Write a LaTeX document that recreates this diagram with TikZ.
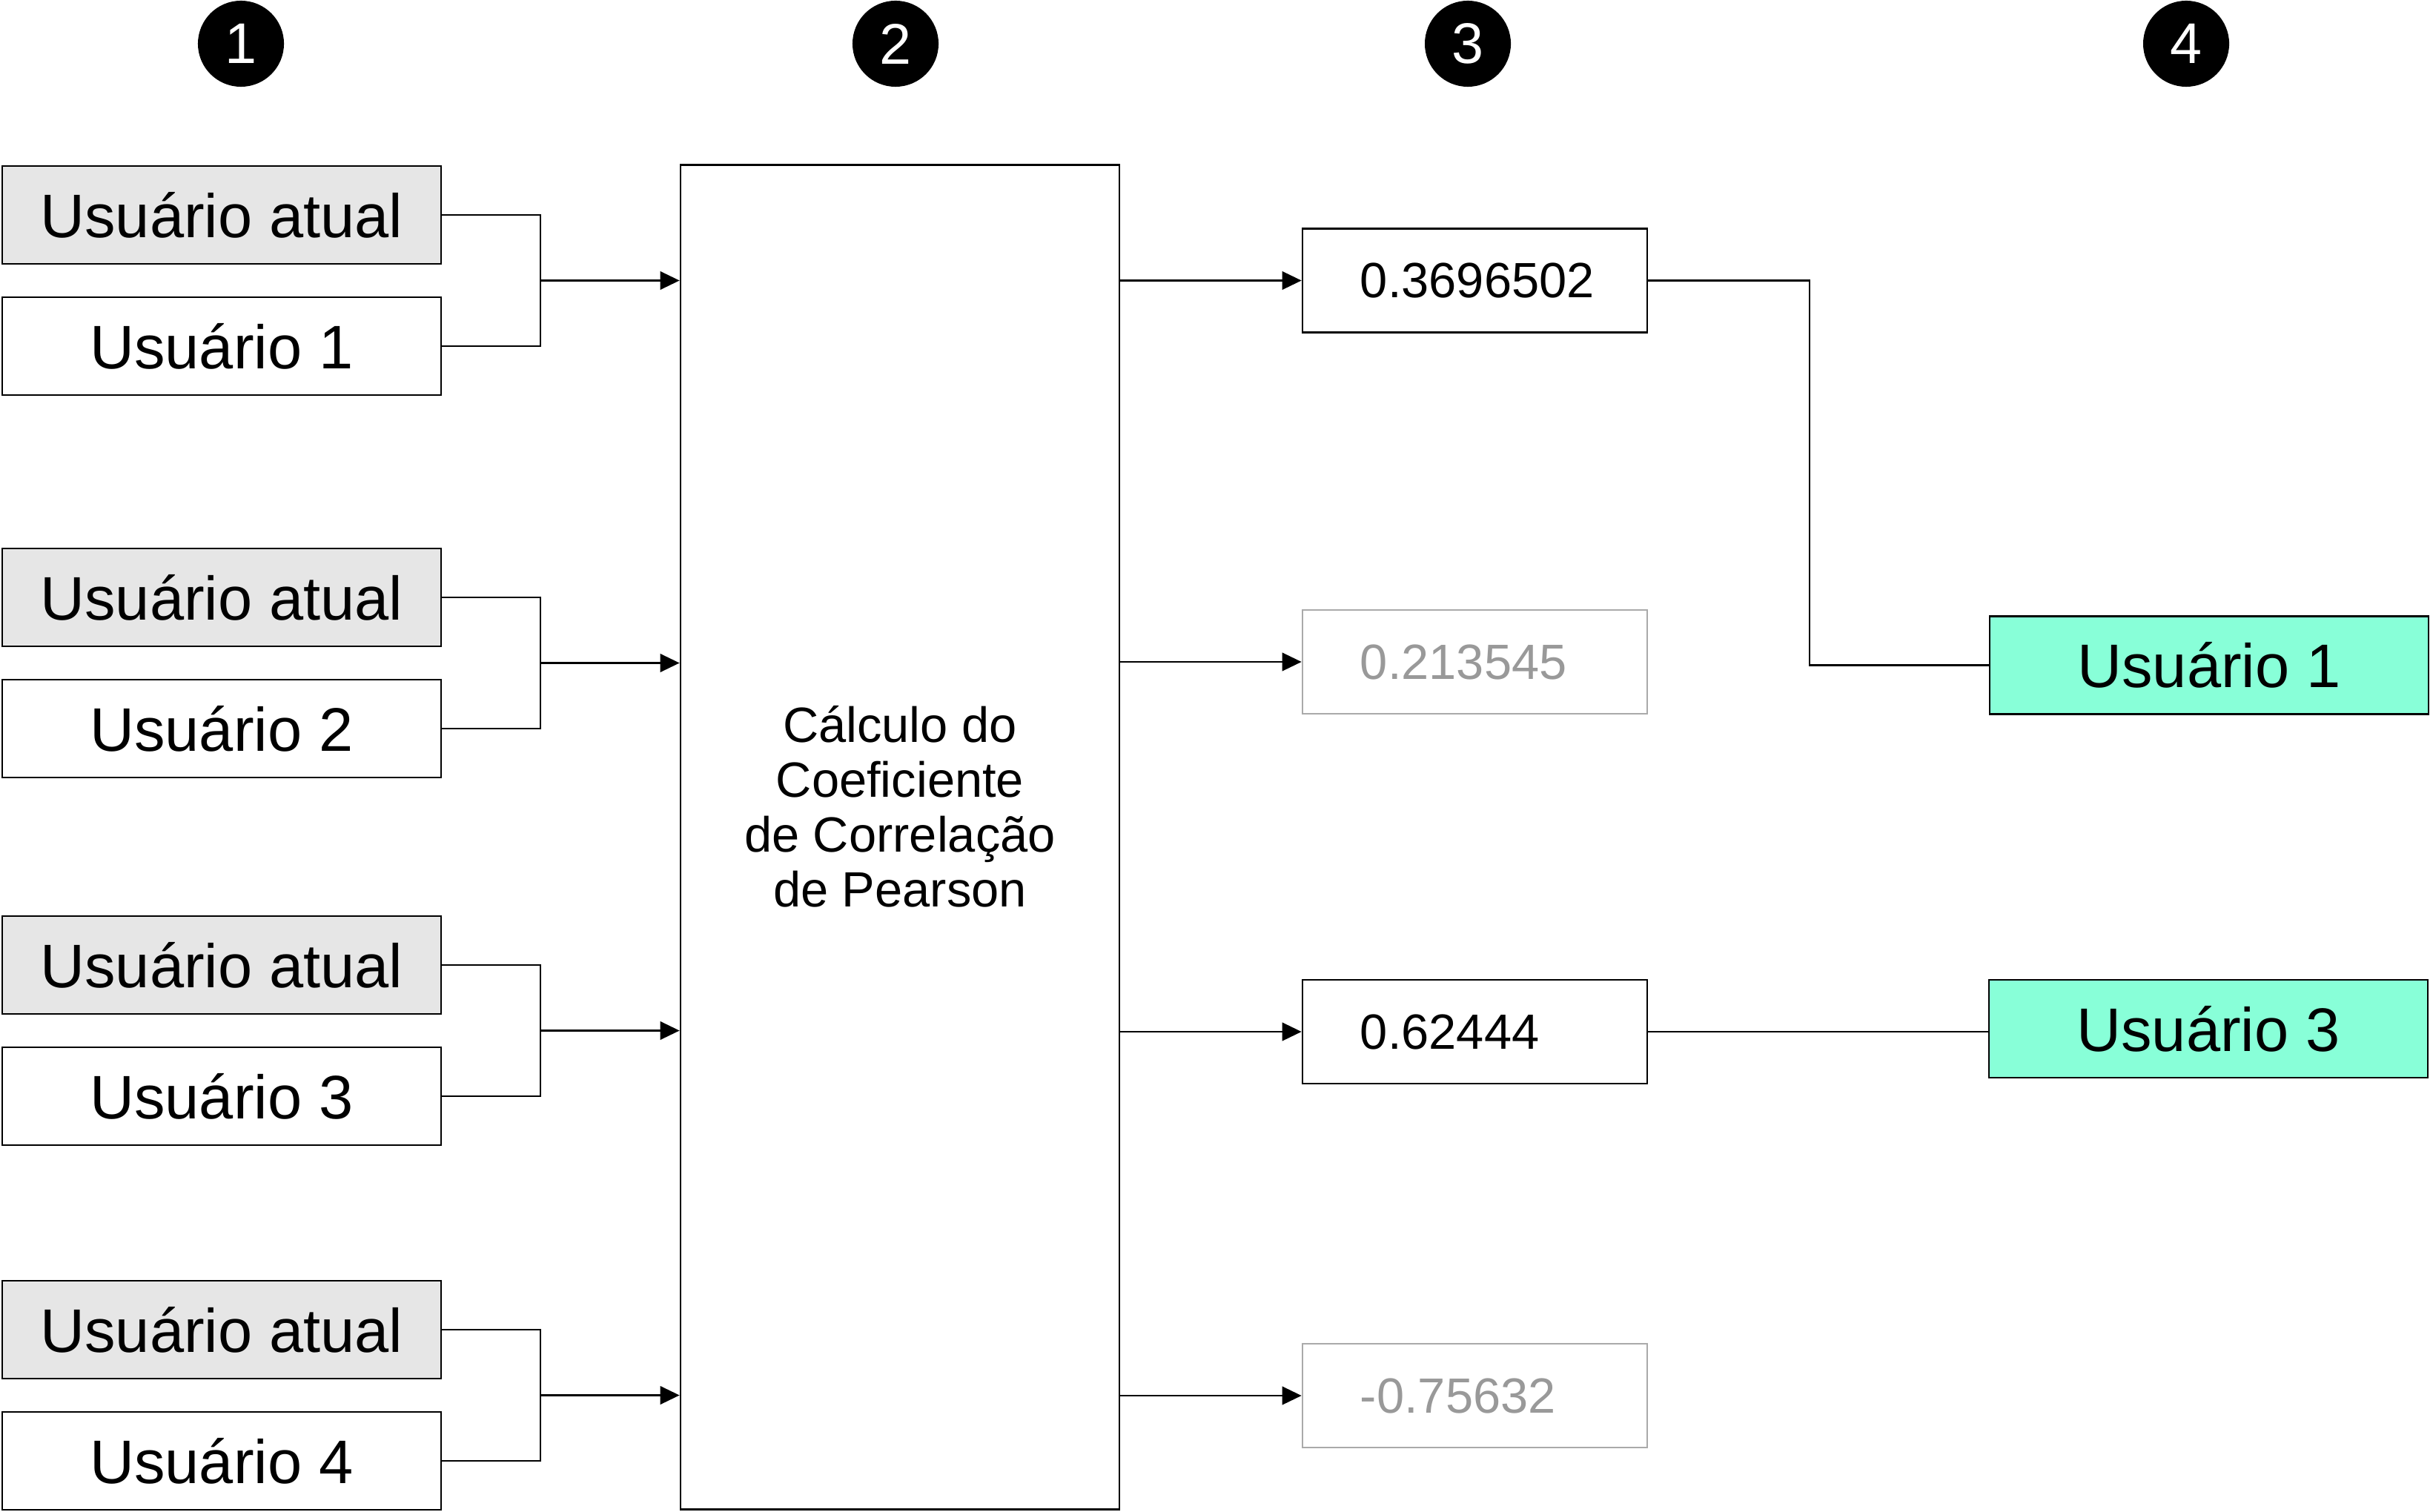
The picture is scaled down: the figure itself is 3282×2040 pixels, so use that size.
\documentclass[tikz,border=0pt]{standalone}
\usepackage{fontspec}
\setmainfont{Liberation Sans}
\usepackage{tikz}
\usetikzlibrary{arrows.meta}
\definecolor{cinzaclaro}{HTML}{E6E6E6}
\definecolor{verdeagua}{HTML}{88FFD8}
\definecolor{cinzafraco}{HTML}{999999}
\definecolor{bordafraca}{HTML}{AAAAAA}
\tikzset{
	usernode/.style={rectangle, draw=black, line width=0.7pt, minimum width=5.92cm, minimum height=1.32cm, inner sep=0pt, font=\fontsize{23.6}{28}\selectfont},
	atualnode/.style={usernode, fill=cinzaclaro},
	escolhidonode/.style={usernode, fill=verdeagua},
	valnode/.style={rectangle, draw=black, line width=0.7pt, minimum height=1.40cm, inner xsep=0.78cm, inner ysep=0pt, text width=3.09cm, align=left, font=\fontsize{19}{22}\selectfont},
	fracanode/.style={valnode, draw=bordafraca, text=cinzafraco},
	calcnode/.style={rectangle, draw=black, line width=0.7pt, minimum width=5.92cm, minimum height=18.13cm},
	passonode/.style={circle, fill=black, text=white, minimum size=1.16cm, inner sep=0pt, font=\fontsize{22}{26}\selectfont},
	liga/.style={line width=0.6pt},
	seta/.style={line width=0.6pt, -{Triangle[length=7.4pt,width=7pt]}}
}
\begin{document}
\begin{tikzpicture}[x=0.01cm,y=-0.01cm]
	\useasboundingbox (0,0) rectangle (3282,2040);
	% passos
	\node[passonode] (p1) at (325,59) {1};
	\node[passonode] (p2) at (1208,59) {2};
	\node[passonode] (p3) at (1980,59) {3};
	\node[passonode] (p4) at (2949,59) {4};
	
	% pares de usuarios
	\node[atualnode] (a1) at (299,290) {Usuário atual};
	\node[usernode] (u1) at (299,467) {Usuário 1};
	\node[atualnode] (a2) at (299,806) {Usuário atual};
	\node[usernode] (u2) at (299,983) {Usuário 2};
	\node[atualnode] (a3) at (299,1302) {Usuário atual};
	\node[usernode] (u3) at (299,1479) {Usuário 3};
	\node[atualnode] (a4) at (299,1794) {Usuário atual};
	\node[usernode] (u4) at (299,1971) {Usuário 4};
	
	% calculo
	\node[calcnode] (calc) at (1214,1129.5) {};
	\node[align=center, font=\fontsize{19}{21}\selectfont] (calctexto) at (1214,1088) {Cálculo do\\Coeficiente\\de Correlação\\de Pearson};
	
	% coeficientes
	\node[valnode] (n1) at (1989.5,378.5) {0.3696502};
	\node[fracanode] (n2) at (1989.5,893) {0.213545};
	\node[valnode] (n3) at (1989.5,1392) {0.62444};
	\node[fracanode] (n4) at (1989.5,1883) {-0.75632};
	
	% escolhidos
	\node[escolhidonode] (r1) at (2980,897.5) {Usuário 1};
	\node[escolhidonode] (r3) at (2979,1388) {Usuário 3};
	
	% ligacoes da entrada
	\coordinate (j1) at (729,378.5);
	\coordinate (j2) at (729,894.5);
	\coordinate (j3) at (729,1390.5);
	\coordinate (j4) at (729,1882.5);
	\draw[liga] (a1.east) -| (j1) |- (u1.east);
	\draw[liga] (a2.east) -| (j2) |- (u2.east);
	\draw[liga] (a3.east) -| (j3) |- (u3.east);
	\draw[liga] (a4.east) -| (j4) |- (u4.east);
	\draw[seta] (j1) -- (j1 -| calc.west);
	\draw[seta] (j2) -- (j2 -| calc.west);
	\draw[seta] (j3) -- (j3 -| calc.west);
	\draw[seta] (j4) -- (j4 -| calc.west);
	
	% ligacoes da saida
	\draw[seta] (calc.east |- n1) -- (n1.west);
	\draw[seta] (calc.east |- n2) -- (n2.west);
	\draw[seta] (calc.east |- n3) -- (n3.west);
	\draw[seta] (calc.east |- n4) -- (n4.west);
	
	\coordinate (k1) at (2441,378.5);
	\draw[liga] (n1.east) -- (k1) |- (r1.west);
	\draw[liga] (n3.east) -- (n3.east -| r3.west);
\end{tikzpicture}
\end{document}
